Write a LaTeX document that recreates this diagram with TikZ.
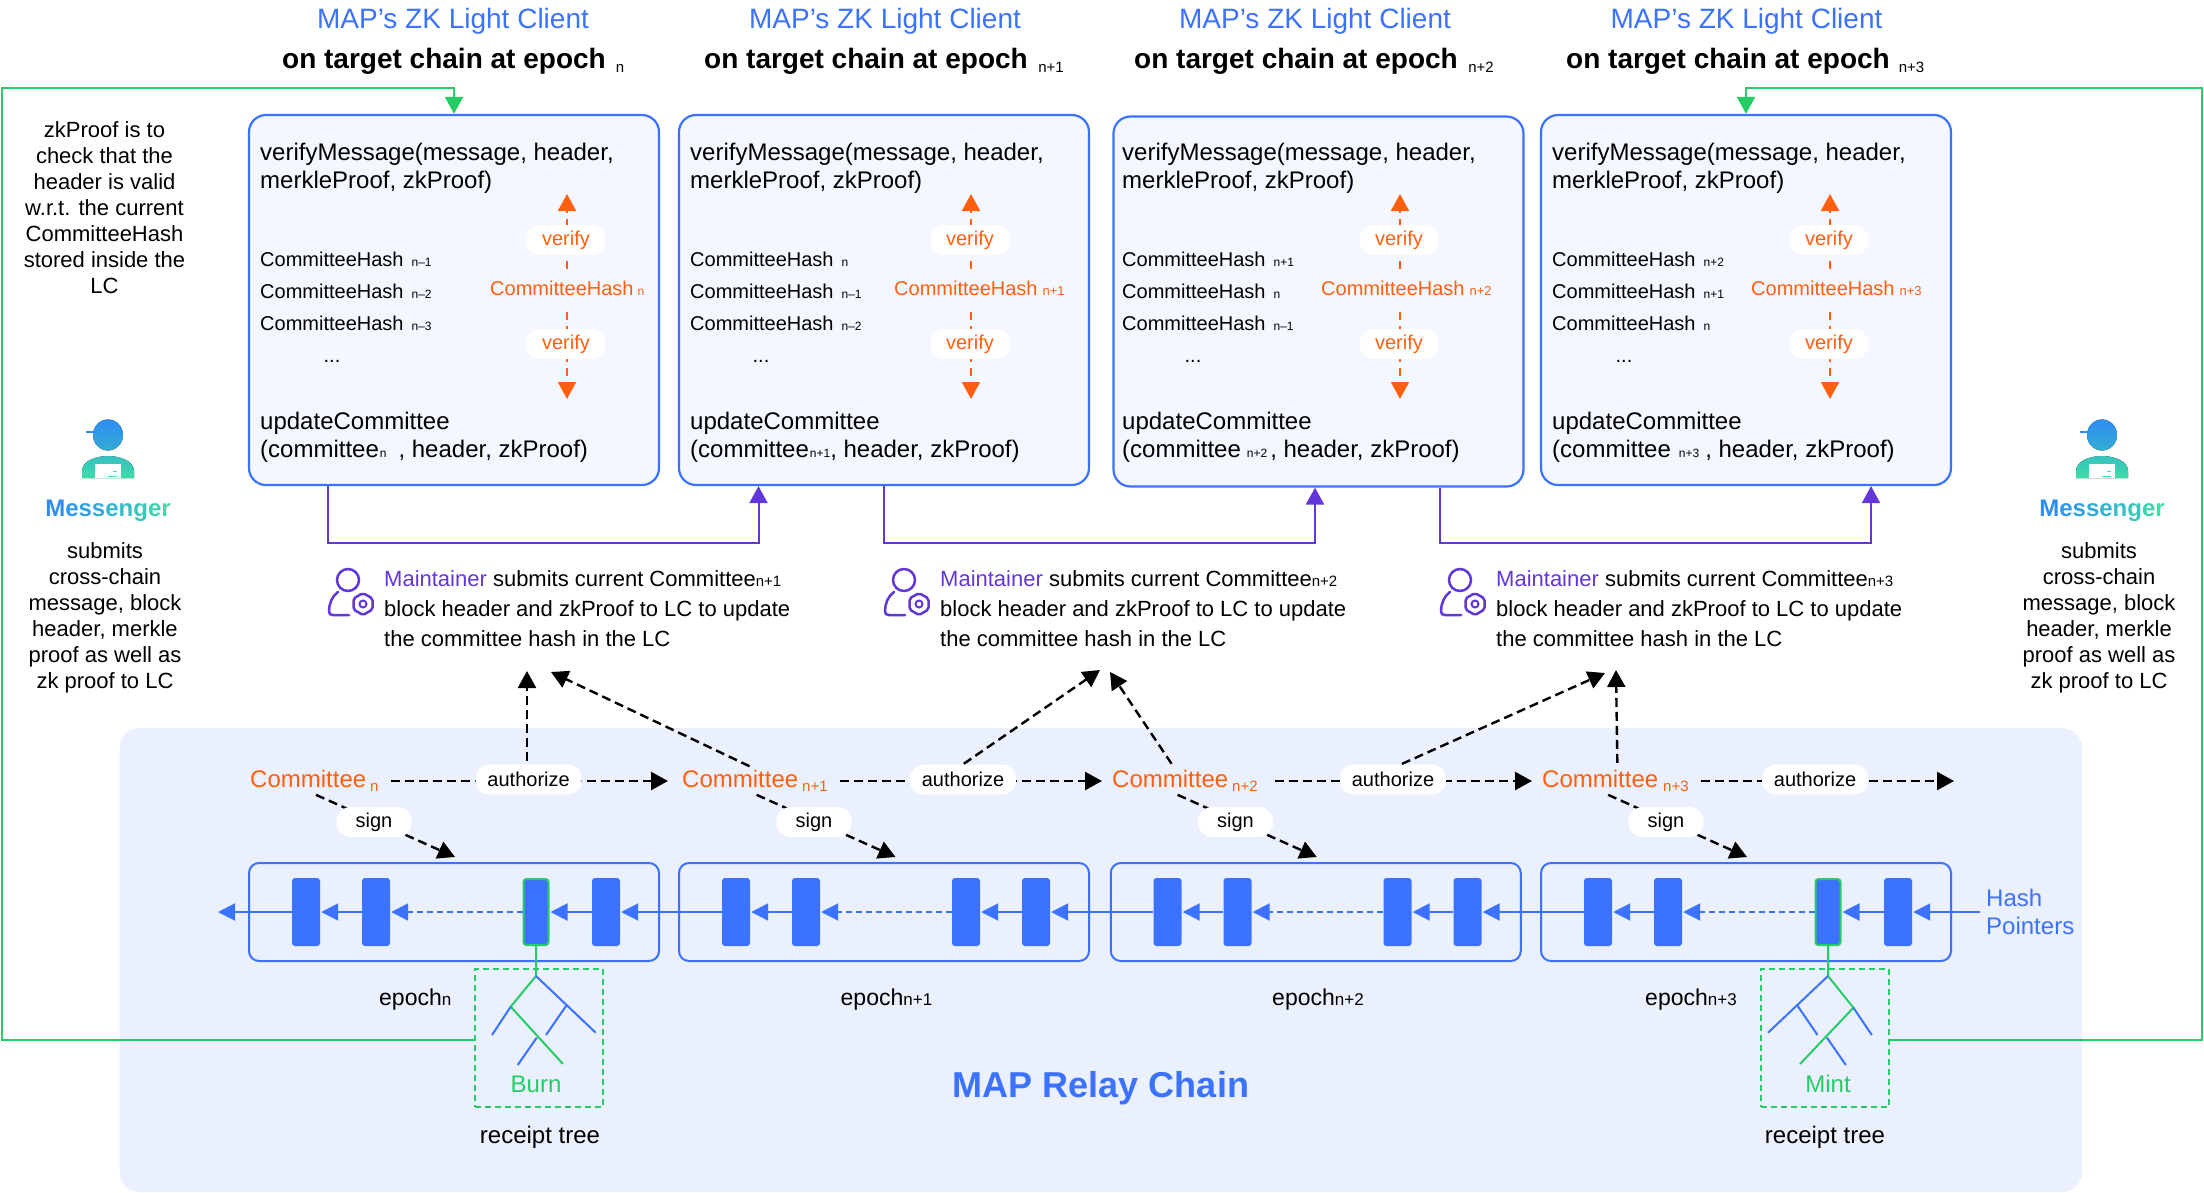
\documentclass[tikz,border=0pt]{standalone}
\usepackage{xcolor}
\usepackage{fontspec}
\setmainfont{Liberation Sans}
\usepackage{tikz}
\usetikzlibrary{shapes,arrows.meta,positioning}

\definecolor{mapblue}{HTML}{3B72FF}
\definecolor{relaybg}{HTML}{EAF0FE}
\definecolor{panelbg}{HTML}{F4F7FF}
\definecolor{hashorange}{HTML}{FF5F0F}
\definecolor{proofgreen}{HTML}{26CC66}
\definecolor{maintpurple}{HTML}{6236D8}
\definecolor{msgstart}{HTML}{2E8DF2}
\definecolor{msgend}{HTML}{3DDDA5}

\newcommand{\subtxt}[3][0]{\raisebox{-#1pt}{\normalfont\fontsize{#2}{#2}\selectfont #3}}
\newcommand{\msgword}{\textcolor{msgstart}{M}\textcolor{msgstart!88!msgend}{e}\textcolor{msgstart!76!msgend}{s}\textcolor{msgstart!64!msgend}{s}\textcolor{msgstart!52!msgend}{e}\textcolor{msgstart!40!msgend}{n}\textcolor{msgstart!28!msgend}{g}\textcolor{msgstart!14!msgend}{e}\textcolor{msgend}{r}}

\tikzset{
  messengericon/.pic={
    \fill[top color=msgstart, bottom color=msgstart!60!msgend] (0,0) ellipse (15pt and 15.5pt);
    \draw[msgstart, line width=2pt] (-22,-3) -- (-12,-3);
    \fill[top color=msgstart!35!msgend, bottom color=msgend] (-26,43) -- (-26,36) .. controls (-26,26) and (-12,21) .. (0,21) .. controls (12,21) and (26,26) .. (26,36) -- (26,43) -- cycle;
    \fill[white] (-13,29) rectangle (13,43);
    \fill[msgend] (4.7,35.7) rectangle (8.7,37.3);
    \fill[msgend] (0,40.7) rectangle (8.7,42.3);
  },
  maintainericon/.pic={
    \draw[maintpurple, line width=2.5pt] (20,12) circle (11pt);
    \draw[maintpurple, line width=2.5pt, line cap=round] (10,24) .. controls (4,28) and (1,36) .. (1,43) .. controls (1,46) and (2,47) .. (5,47) -- (21,47);
    \draw[maintpurple, line width=2.5pt, fill=white, rounded corners=2pt] (44.5,30.5) -- (35,25) -- (25.5,30.5) -- (25.5,41.5) -- (35,47) -- (44.5,41.5) -- cycle;
    \draw[maintpurple, line width=2pt] (35,36) circle (3.5pt);
  }
}

\begin{document}
\begin{tikzpicture}[x=1pt, y=-1pt, node distance=430pt]
  \tikzstyle{relay} = [fill=relaybg, rounded corners=20pt]
  \tikzstyle{panel} = [rectangle, draw=mapblue, fill=panelbg, line width=2.2pt, rounded corners=17pt, minimum width=410pt, minimum height=370pt, inner sep=0pt]
  \tikzstyle{epochbox} = [rectangle, draw=mapblue, line width=2pt, rounded corners=10pt, minimum width=410pt, minimum height=98pt, inner sep=0pt]
  \tikzstyle{chainblock} = [rectangle, fill=mapblue, rounded corners=3pt, minimum width=28pt, minimum height=68pt, inner sep=0pt]
  \tikzstyle{greenblock} = [chainblock, draw=proofgreen, line width=2pt, minimum width=25pt, minimum height=66pt]
  \tikzstyle{titletop} = [text=mapblue, font=\fontsize{28}{32}\selectfont, inner sep=0pt]
  \tikzstyle{titlesub} = [anchor=base west, font=\bfseries\fontsize{28}{32}\selectfont, inner sep=0pt]
  \tikzstyle{bodytext} = [anchor=north west, align=left, font=\fontsize{24}{28}\selectfont, inner sep=0pt]
  \tikzstyle{hashlist} = [anchor=north west, align=left, font=\fontsize{20}{32}\selectfont, inner sep=0pt]
  \tikzstyle{dotstext} = [anchor=base, font=\fontsize{20}{24}\selectfont, inner sep=0pt]
  \tikzstyle{hashnow} = [anchor=base west, text=hashorange, font=\fontsize{20}{24}\selectfont, inner sep=0pt, text height=16pt, text depth=5pt]
  \tikzstyle{sidetext} = [align=center, font=\fontsize{22}{26}\selectfont, inner sep=0pt]
  \tikzstyle{msgname} = [font=\bfseries\fontsize{24}{28}\selectfont, inner sep=0pt]
  \tikzstyle{mainttext} = [anchor=north west, align=left, font=\fontsize{22}{30}\selectfont, inner sep=0pt]
  \tikzstyle{committee} = [anchor=west, text=hashorange, font=\fontsize{24}{28}\selectfont, inner sep=0pt, text height=18pt, text depth=6pt]
  \tikzstyle{epochname} = [anchor=base west, font=\fontsize{23}{28}\selectfont, inner sep=0pt]
  \tikzstyle{plain} = [font=\fontsize{24}{28}\selectfont, inner sep=0pt]
  \tikzstyle{pill} = [rectangle, fill=white, rounded corners=14pt, minimum height=30pt, inner sep=0pt, font=\fontsize{20}{24}\selectfont]
  \tikzstyle{verifypill} = [pill, text=hashorange, minimum width=79pt]
  \tikzstyle{authpill} = [pill, minimum width=106pt]
  \tikzstyle{signpill} = [pill, minimum width=75pt]
  \tikzstyle{verifyline} = [draw=hashorange, line width=2pt, dash pattern=on 8pt off 6pt, -{Triangle[length=17pt,width=18pt]}]
  \tikzstyle{dashline} = [draw=black, line width=2.4pt, dash pattern=on 9pt off 5pt, -{Triangle[length=17pt,width=18pt]}]
  \tikzstyle{purpleline} = [draw=maintpurple, line width=2pt, -{Triangle[length=17pt,width=18pt]}]
  \tikzstyle{greenline} = [draw=proofgreen, line width=2pt, -{Triangle[length=17pt,width=18pt]}]
  \tikzstyle{chainline} = [draw=mapblue, line width=2pt, shorten >=1pt, -{Triangle[length=17pt,width=17pt]}]
  \tikzstyle{chaindash} = [chainline, dash pattern=on 6pt off 4pt]
  \tikzstyle{treegreen} = [draw=proofgreen, line width=2pt]
  \tikzstyle{treeblue} = [draw=mapblue, line width=2pt]
  \tikzstyle{treebox} = [rectangle, draw=proofgreen, line width=2pt, dash pattern=on 6pt off 4pt, minimum width=128pt, minimum height=138pt, inner sep=0pt]

  \useasboundingbox (0,0) rectangle (2204,1192);

  % relay chain background
  \fill [relay] (119.5,728) rectangle (2082,1192);

  % titles
  \node [titletop] (titleA) at (453,21) {MAP’s ZK Light Client};
  \node [titletop] (titleB) at (885,21) {MAP’s ZK Light Client};
  \node [titletop] (titleC) at (1315,21) {MAP’s ZK Light Client};
  \node [titletop] (titleD) at (1746.5,21) {MAP’s ZK Light Client};
  \node [titlesub] (targetA) at (282,68.5) {on target chain at epoch\hspace{10pt}\subtxt[4]{15}{n}};
  \node [titlesub] (targetB) at (704,68.5) {on target chain at epoch\hspace{10.5pt}\subtxt[4]{15}{n+1}};
  \node [titlesub] (targetC) at (1134,68.5) {on target chain at epoch\hspace{10.5pt}\subtxt[4]{15}{n+2}};
  \node [titlesub] (targetD) at (1566,68.5) {on target chain at epoch\hspace{9pt}\subtxt[4]{15}{n+3}};

  % light client panels
  \node [panel] (panelA) at (454,300) {};
  \node [panel, right of=panelA] (panelB) {};
  \node [panel, right of=panelB, node distance=434.5pt, yshift=-1.5pt] (panelC) {};
  \node [panel, right of=panelC, node distance=427.5pt, yshift=1.5pt] (panelD) {};

  \node [bodytext] (verifyA) at (260,142.5) {verifyMessage(message, header,\\merkleProof, zkProof)};
  \node [hashlist] (listA) at (260,251.5) {CommitteeHash\hspace{8pt}\subtxt{12}{n–1}\\CommitteeHash\hspace{8pt}\subtxt{12}{n–2}\\CommitteeHash\hspace{8pt}\subtxt{12}{n–3}};
  \node [dotstext] (dotsA) at (332,362) {...};
  \node [hashnow] (nowA) at (490,295) {CommitteeHash\hspace{4pt}\subtxt{12}{n}};
  \node [bodytext] (updateA) at (260,411.5) {updateCommittee\\(committee\hspace{1pt}\subtxt{12}{n}\hspace{12pt}, header, zkProof)};

  \node [bodytext] (verifyB) at (690,142.5) {verifyMessage(message, header,\\merkleProof, zkProof)};
  \node [hashlist] (listB) at (690,251.5) {CommitteeHash\hspace{8pt}\subtxt{12}{n}\\CommitteeHash\hspace{8pt}\subtxt{12}{n–1}\\CommitteeHash\hspace{8pt}\subtxt{12}{n–2}};
  \node [dotstext] (dotsB) at (761,362) {...};
  \node [hashnow] (nowB) at (894,295) {CommitteeHash\hspace{5pt}\subtxt{13}{n+1}};
  \node [bodytext] (updateB) at (690,411.5) {updateCommittee\\(committee\hspace{1pt}\subtxt{12}{n+1}, header, zkProof)};

  \node [bodytext] (verifyC) at (1122,142.5) {verifyMessage(message, header,\\merkleProof, zkProof)};
  \node [hashlist] (listC) at (1122,251.5) {CommitteeHash\hspace{8pt}\subtxt{12}{n+1}\\CommitteeHash\hspace{8pt}\subtxt{12}{n}\\CommitteeHash\hspace{8pt}\subtxt{12}{n–1}};
  \node [dotstext] (dotsC) at (1193,362) {...};
  \node [hashnow] (nowC) at (1321,295) {CommitteeHash\hspace{5pt}\subtxt{13}{n+2}};
  \node [bodytext] (updateC) at (1122,411.5) {updateCommittee\\(committee\hspace{6pt}\subtxt{12}{n+2}\hspace{3pt}, header, zkProof)};

  \node [bodytext] (verifyD) at (1552,142.5) {verifyMessage(message, header,\\merkleProof, zkProof)};
  \node [hashlist] (listD) at (1552,251.5) {CommitteeHash\hspace{8pt}\subtxt{12}{n+2}\\CommitteeHash\hspace{8pt}\subtxt{12}{n+1}\\CommitteeHash\hspace{8pt}\subtxt{12}{n}};
  \node [dotstext] (dotsD) at (1624,362) {...};
  \node [hashnow] (nowD) at (1751,295) {CommitteeHash\hspace{5pt}\subtxt{13}{n+3}};
  \node [bodytext] (updateD) at (1552,411.5) {updateCommittee\\(committee\hspace{8pt}\subtxt{12}{n+3}\hspace{6pt}, header, zkProof)};

  % verify arrows
  \coordinate (upA) at (567,194);
  \coordinate (downA) at (567,399);
  \coordinate (upB) at (971,194);
  \coordinate (downB) at (971,399);
  \coordinate (upC) at (1400,194);
  \coordinate (downC) at (1400,399);
  \coordinate (upD) at (1830,194);
  \coordinate (downD) at (1830,399);
  \path [verifyline, shorten <=10pt] (upA |- nowA.north) -- (upA);
  \path [verifyline, shorten <=12pt] (downA |- nowA.south) -- (downA);
  \path [verifyline, shorten <=10pt] (upB |- nowB.north) -- (upB);
  \path [verifyline, shorten <=12pt] (downB |- nowB.south) -- (downB);
  \path [verifyline, shorten <=10pt] (upC |- nowC.north) -- (upC);
  \path [verifyline, shorten <=12pt] (downC |- nowC.south) -- (downC);
  \path [verifyline, shorten <=10pt] (upD |- nowD.north) -- (upD);
  \path [verifyline, shorten <=12pt] (downD |- nowD.south) -- (downD);
  \node [verifypill] (checkA) at (566,240) {verify};
  \node [verifypill] (recheckA) at (566,344) {verify};
  \node [verifypill] (checkB) at (970,240) {verify};
  \node [verifypill] (recheckB) at (970,344) {verify};
  \node [verifypill] (checkC) at (1399,240) {verify};
  \node [verifypill] (recheckC) at (1399,344) {verify};
  \node [verifypill] (checkD) at (1829,240) {verify};
  \node [verifypill] (recheckD) at (1829,344) {verify};

  % messengers
  \node [sidetext] (zknote) at (104.5,208) {zkProof is to\\check that the\\header is valid\\w.r.t. the current\\CommitteeHash\\stored inside the\\LC};
  \pic at (108,435) {messengericon};
  \pic at (2102,435) {messengericon};
  \node [msgname] (msgL) at (108,511) {\msgword};
  \node [msgname] (msgR) at (2102,511) {\msgword};
  \node [sidetext] (submitL) at (105,617.5) {submits\\cross-chain\\message, block\\header, merkle\\proof as well as\\zk proof to LC};
  \node [sidetext] (submitR) at (2099,617.5) {submits\\cross-chain\\message, block\\header, merkle\\proof as well as\\zk proof to LC};

  % maintainers
  \pic at (328,568) {maintainericon};
  \pic at (884,568) {maintainericon};
  \pic at (1440,568) {maintainericon};
  \node [mainttext] (maintA) at (384,570) {\textcolor{maintpurple}{Maintainer} submits current Committee\subtxt{15}{n+1}\\block header and zkProof to LC to update\\the committee hash in the LC};
  \node [mainttext] (maintB) at (940,570) {\textcolor{maintpurple}{Maintainer} submits current Committee\subtxt{15}{n+2}\\block header and zkProof to LC to update\\the committee hash in the LC};
  \node [mainttext] (maintC) at (1496,570) {\textcolor{maintpurple}{Maintainer} submits current Committee\subtxt{15}{n+3}\\block header and zkProof to LC to update\\the committee hash in the LC};
  \path [purpleline] ([xshift=-126pt]panelA.south) -- ([xshift=-126pt,yshift=-56.5pt]panelA.south) -| ([xshift=-125.5pt]panelB.south);
  \path [purpleline] (panelB.south) -- ([yshift=-56.5pt]panelB.south) -| ([xshift=-3.5pt]panelC.south);
  \path [purpleline] ([xshift=121pt]panelC.south) -- ([xshift=121pt,yshift=-55pt]panelC.south) -| ([xshift=125pt]panelD.south);

  % committees
  \node [committee] (comA) at (250,781) {Committee\hspace{4pt}\subtxt[4]{15}{n}};
  \node [committee] (comB) at (682,781) {Committee\hspace{4pt}\subtxt[4]{15}{n+1}};
  \node [committee] (comC) at (1112,781) {Committee\hspace{4pt}\subtxt[4]{15}{n+2}};
  \node [committee] (comD) at (1542,781) {Committee\hspace{5pt}\subtxt[4]{15}{n+3}};
  \coordinate (comEnd) at (1954,781);
  \coordinate (tipA) at (527,671);
  \coordinate (tipB) at (551,672);
  \coordinate (tipC) at (1100,670);
  \coordinate (tipD) at (1110,672);
  \coordinate (tipE) at (1605,673);
  \coordinate (tipF) at (1616,670);

  % epochs
  \node [epochbox, below of=panelA, node distance=612pt] (epochA) {};
  \node [epochbox, below of=panelB, node distance=612pt] (epochB) {};
  \node [epochbox, below of=panelC, node distance=610.5pt, xshift=-2.75pt] (epochC) {};
  \node [epochbox, below of=panelD, node distance=612pt] (epochD) {};
  \node [chainblock] (a1) at (306,912) {};
  \node [chainblock, right of=a1, node distance=70pt] (a2) {};
  \node [greenblock, right of=a2, node distance=160pt] (a3) {};
  \node [chainblock, right of=a3, node distance=70pt] (a4) {};
  \node [chainblock, right of=a4, node distance=130pt] (b1) {};
  \node [chainblock, right of=b1, node distance=70pt] (b2) {};
  \node [chainblock, right of=b2, node distance=160pt] (b3) {};
  \node [chainblock, right of=b3, node distance=70pt] (b4) {};
  \node [chainblock, right of=b4, node distance=131.5pt] (c1) {};
  \node [chainblock, right of=c1, node distance=70pt] (c2) {};
  \node [chainblock, right of=c2, node distance=160pt] (c3) {};
  \node [chainblock, right of=c3, node distance=70pt] (c4) {};
  \node [chainblock, right of=c4, node distance=130.5pt] (d1) {};
  \node [chainblock, right of=d1, node distance=70pt] (d2) {};
  \node [greenblock, right of=d2, node distance=160pt] (d3) {};
  \node [chainblock, right of=d3, node distance=70pt] (d4) {};
  \coordinate [left of=a1, node distance=89pt] (chainEnd);
  \coordinate [right of=d4, node distance=82pt] (chainStart);
  \path [chainline] (chainStart) -- (d4);
  \path [chainline] (d4) -- (d3);
  \path [chaindash] (d3) -- (d2);
  \path [chainline] (d2) -- (d1);
  \path [chainline] (d1) -- (c4);
  \path [chainline] (c4) -- (c3);
  \path [chaindash] (c3) -- (c2);
  \path [chainline] (c2) -- (c1);
  \path [chainline] (c1) -- (b4);
  \path [chainline] (b4) -- (b3);
  \path [chaindash] (b3) -- (b2);
  \path [chainline] (b2) -- (b1);
  \path [chainline] (b1) -- (a4);
  \path [chainline] (a4) -- (a3);
  \path [chaindash] (a3) -- (a2);
  \path [chainline] (a2) -- (a1);
  \path [chainline] (a1) -- (chainEnd);
  \node [plain, anchor=north west, align=left, text=mapblue] (hashptr) at (1986,889) {Hash\\Pointers};
  \node [epochname] (nameA) at (379,1005) {epoch\subtxt{17}{n}};
  \node [epochname] (nameB) at (840.5,1005) {epoch\subtxt{17}{n+1}};
  \node [epochname] (nameC) at (1272,1005) {epoch\subtxt{17}{n+2}};
  \node [epochname] (nameD) at (1645,1005) {epoch\subtxt{17}{n+3}};

  % committee arrows
  \path [dashline, shorten <=12pt, shorten >=14pt] (comA.east) -- (comB.west);
  \path [dashline, shorten <=12pt, shorten >=10pt] (comB.east) -- (comC.west);
  \path [dashline, shorten <=17pt, shorten >=10pt] (comC.east) -- (comD.west);
  \path [dashline, shorten <=12pt] (comD.east) -- (comEnd);
  \path [dashline, shorten <=6pt] (comB.north) -- (tipB);
  \path [dashline, shorten <=6pt] ([xshift=-10pt]comC.north) -- (tipD);
  \path [dashline, shorten <=6pt] ([xshift=2pt]comD.north) -- (tipF);
  \path [dashline, shorten <=4pt] ([xshift=-2pt]comA.south) -- ([xshift=1pt,yshift=5pt]epochA.north);
  \path [dashline, shorten <=4pt] ([xshift=-2pt]comB.south) -- ([xshift=11.5pt,yshift=5pt]epochB.north);
  \path [dashline, shorten <=4pt] ([xshift=-11pt]comC.south) -- ([xshift=1pt,yshift=5pt]epochC.north);
  \path [dashline, shorten <=4pt] ([xshift=-11pt]comD.south) -- ([xshift=1pt,yshift=5pt]epochD.north);
  \node [authpill] (authA) at (528.6,779.5) {authorize};
  \node [authpill] (authB) at (963,779.5) {authorize};
  \node [authpill] (authC) at (1393,779.5) {authorize};
  \node [authpill] (authD) at (1815,779.5) {authorize};
  \path [dashline, shorten <=3pt] ([xshift=-1.6pt]authA.north) -- (tipA);
  \path [dashline, shorten <=1pt] (authB.north) -- (tipC);
  \path [dashline, shorten <=1pt] ([xshift=8pt]authC.north) -- (tipE);
  \node [signpill] (signA) at (374,822) {sign};
  \node [signpill] (signB) at (814,822) {sign};
  \node [signpill] (signC) at (1235.5,822) {sign};
  \node [signpill] (signD) at (1666,822) {sign};

  % receipt trees
  \node [treebox] (burnBox) at (539,1038) {};
  \node [treebox] (mintBox) at (1825,1038) {};
  \coordinate (burnRoot) at (536,976);
  \coordinate (burnL) at (510.7,1006.7);
  \coordinate (burnR) at (566.7,1005);
  \coordinate (burnM) at (536.7,1037.7);
  \coordinate (burnLeaf) at (563,1064);
  \coordinate (burnLL) at (492,1035);
  \coordinate (burnRR) at (595.7,1032.7);
  \coordinate (burnRL) at (546,1035);
  \coordinate (burnML) at (517.7,1065);
  \path [treegreen] (a3.south) -- (burnRoot) -- (burnL) -- (burnLeaf);
  \path [treeblue] (burnL) -- (burnLL);
  \path [treeblue] (burnRoot) -- (burnRR);
  \path [treeblue] (burnR) -- (burnRL);
  \path [treeblue] (burnM) -- (burnML);
  \coordinate (mintRoot) at (1828,976);
  \coordinate (mintR) at (1853.4,1007.7);
  \coordinate (mintL) at (1797,1005);
  \coordinate (mintM) at (1827,1037.7);
  \coordinate (mintLeaf) at (1800,1064);
  \coordinate (mintLL) at (1768,1032.7);
  \coordinate (mintLR) at (1817.5,1035);
  \coordinate (mintRR) at (1871.8,1035);
  \coordinate (mintMR) at (1845.8,1065);
  \path [treegreen] (d3.south) -- (mintRoot) -- (mintR) -- (mintLeaf);
  \path [treeblue] (mintRoot) -- (mintLL);
  \path [treeblue] (mintL) -- (mintLR);
  \path [treeblue] (mintR) -- (mintRR);
  \path [treeblue] (mintM) -- (mintMR);
  \node [plain, text=proofgreen] (burn) at (536,1084) {Burn};
  \node [plain, text=proofgreen] (mint) at (1828,1084) {Mint};
  \node [plain] (receiptA) at (540,1137.5) {receipt tree};
  \node [plain] (receiptB) at (1825,1137.5) {receipt tree};
  \node [font=\bfseries\fontsize{36}{40}\selectfont, text=mapblue, inner sep=0pt] (relayname) at (1101,1088) {MAP Relay Chain};

  % proofs sent to the light clients
  \coordinate (greenL) at (2,88);
  \coordinate (greenR) at (2202,88);
  \path [greenline] ([yshift=-2pt]burnBox.west) -| (greenL) -| (panelA.north);
  \path [greenline] ([yshift=-2pt]mintBox.east) -| (greenR) -| (panelD.north);
\end{tikzpicture}
\end{document}
